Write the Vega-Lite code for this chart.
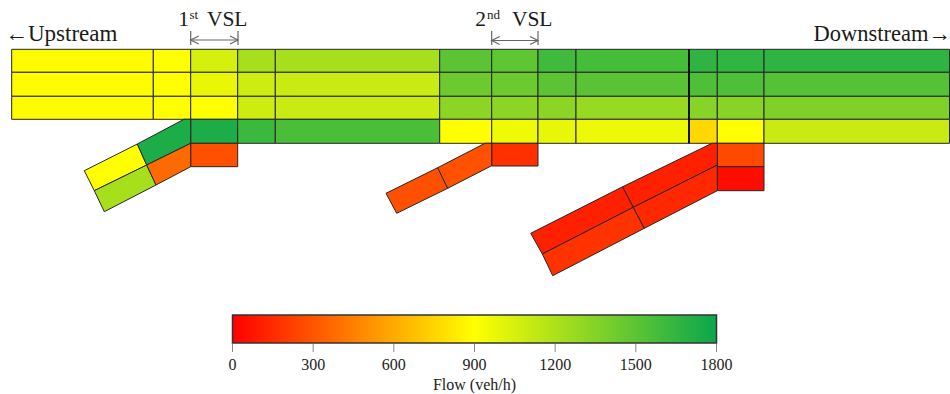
{
  "$schema": "https://vega.github.io/schema/vega-lite/v6.json",
  "width": 950,
  "height": 394,
  "padding": 0,
  "autosize": {"type": "none"},
  "background": "white",
  "config": {"view": {"stroke": null}},
  "datasets": {
    "road": [
      {"x": 11.7, "x2": 153.3, "y": 49.3, "y2": 72.3, "flow": 890},
      {"x": 11.7, "x2": 153.3, "y": 72.3, "y2": 96.3, "flow": 890},
      {"x": 11.7, "x2": 153.3, "y": 96.3, "y2": 119.3, "flow": 890},
      {"x": 153.3, "x2": 190.7, "y": 49.3, "y2": 72.3, "flow": 900},
      {"x": 153.3, "x2": 190.7, "y": 72.3, "y2": 96.3, "flow": 900},
      {"x": 153.3, "x2": 190.7, "y": 96.3, "y2": 119.3, "flow": 900},
      {"x": 190.7, "x2": 237.7, "y": 49.3, "y2": 72.3, "flow": 1055},
      {"x": 190.7, "x2": 237.7, "y": 72.3, "y2": 96.3, "flow": 980},
      {"x": 190.7, "x2": 237.7, "y": 96.3, "y2": 119.3, "flow": 900},
      {"x": 190.7, "x2": 237.7, "y": 119.3, "y2": 143.3, "flow": 1730},
      {"x": 237.7, "x2": 275.3, "y": 49.3, "y2": 72.3, "flow": 1220},
      {"x": 237.7, "x2": 275.3, "y": 72.3, "y2": 96.3, "flow": 1085},
      {"x": 237.7, "x2": 275.3, "y": 96.3, "y2": 119.3, "flow": 1085},
      {"x": 237.7, "x2": 275.3, "y": 119.3, "y2": 143.3, "flow": 1620},
      {"x": 275.3, "x2": 439.7, "y": 49.3, "y2": 72.3, "flow": 1220},
      {"x": 275.3, "x2": 439.7, "y": 72.3, "y2": 96.3, "flow": 1100},
      {"x": 275.3, "x2": 439.7, "y": 96.3, "y2": 119.3, "flow": 1100},
      {"x": 275.3, "x2": 439.7, "y": 119.3, "y2": 143.3, "flow": 1560},
      {"x": 439.7, "x2": 491.7, "y": 49.3, "y2": 72.3, "flow": 1500},
      {"x": 439.7, "x2": 491.7, "y": 72.3, "y2": 96.3, "flow": 1440},
      {"x": 439.7, "x2": 491.7, "y": 96.3, "y2": 119.3, "flow": 1320},
      {"x": 439.7, "x2": 491.7, "y": 119.3, "y2": 143.3, "flow": 900},
      {"x": 491.7, "x2": 538, "y": 49.3, "y2": 72.3, "flow": 1490},
      {"x": 491.7, "x2": 538, "y": 72.3, "y2": 96.3, "flow": 1440},
      {"x": 491.7, "x2": 538, "y": 96.3, "y2": 119.3, "flow": 1320},
      {"x": 491.7, "x2": 538, "y": 119.3, "y2": 143.3, "flow": 955},
      {"x": 538, "x2": 576, "y": 49.3, "y2": 72.3, "flow": 1600},
      {"x": 538, "x2": 576, "y": 72.3, "y2": 96.3, "flow": 1500},
      {"x": 538, "x2": 576, "y": 96.3, "y2": 119.3, "flow": 1320},
      {"x": 538, "x2": 576, "y": 119.3, "y2": 143.3, "flow": 985},
      {"x": 576, "x2": 689, "y": 49.3, "y2": 72.3, "flow": 1580},
      {"x": 576, "x2": 689, "y": 72.3, "y2": 96.3, "flow": 1510},
      {"x": 576, "x2": 689, "y": 96.3, "y2": 119.3, "flow": 1280},
      {"x": 576, "x2": 689, "y": 119.3, "y2": 143.3, "flow": 965},
      {"x": 689, "x2": 717.3, "y": 49.3, "y2": 72.3, "flow": 1665},
      {"x": 689, "x2": 717.3, "y": 72.3, "y2": 96.3, "flow": 1550},
      {"x": 689, "x2": 717.3, "y": 96.3, "y2": 119.3, "flow": 1340},
      {"x": 689, "x2": 717.3, "y": 119.3, "y2": 143.3, "flow": 762},
      {"x": 717.3, "x2": 764, "y": 49.3, "y2": 72.3, "flow": 1660},
      {"x": 717.3, "x2": 764, "y": 72.3, "y2": 96.3, "flow": 1550},
      {"x": 717.3, "x2": 764, "y": 96.3, "y2": 119.3, "flow": 1340},
      {"x": 717.3, "x2": 764, "y": 119.3, "y2": 143.3, "flow": 900},
      {"x": 764, "x2": 949.5, "y": 49.3, "y2": 72.3, "flow": 1665},
      {"x": 764, "x2": 949.5, "y": 72.3, "y2": 96.3, "flow": 1530},
      {"x": 764, "x2": 949.5, "y": 96.3, "y2": 119.3, "flow": 1370},
      {"x": 764, "x2": 949.5, "y": 119.3, "y2": 143.3, "flow": 1100},
      {"x": 190.7, "x2": 237.7, "y": 143.3, "y2": 166.7, "flow": 282},
      {"x": 491.7, "x2": 538, "y": 143.3, "y2": 166, "flow": 170},
      {"x": 717.3, "x2": 764, "y": 143.3, "y2": 166.7, "flow": 254},
      {"x": 717.3, "x2": 764, "y": 166.7, "y2": 190.7, "flow": 42}
    ],
    "ramps": [
      {"cell": "r1-far-upper", "flow": 900, "k": [0, 1, 2, 3, 4], "px": [84.3, 137.3, 146.7, 94.3, 84.3], "py": [170.7, 144, 165, 190.7, 170.7]},
      {"cell": "r1-far-lower", "flow": 1220, "k": [0, 1, 2, 3, 4], "px": [94.3, 146.7, 156, 104.3, 94.3], "py": [190.7, 165, 185, 211.7, 190.7]},
      {"cell": "r1-near-upper", "flow": 1730, "k": [0, 1, 2, 3, 4, 5], "px": [137.3, 184, 190.7, 190.7, 146.7, 137.3], "py": [144, 119.3, 119.3, 143.3, 165, 144]},
      {"cell": "r1-near-lower", "flow": 375, "k": [0, 1, 2, 3, 4], "px": [146.7, 190.7, 190.7, 156, 146.7], "py": [165, 143.3, 166.7, 185, 165]},
      {"cell": "r2-far", "flow": 280, "k": [0, 1, 2, 3, 4], "px": [386, 437.7, 447.7, 396.7, 386], "py": [193.3, 167.7, 188.3, 213.3, 193.3]},
      {"cell": "r2-near", "flow": 285, "k": [0, 1, 2, 3, 4, 5], "px": [437.7, 485, 491.7, 491.7, 447.7, 437.7], "py": [167.7, 143.3, 143.3, 165.7, 188.3, 167.7]},
      {"cell": "r3-far-upper", "flow": 113, "k": [0, 1, 2, 3, 4], "px": [530.7, 622.7, 633.3, 542.3, 530.7], "py": [233.3, 186.7, 207.3, 254, 233.3]},
      {"cell": "r3-near-upper", "flow": 113, "k": [0, 1, 2, 3, 4, 5], "px": [622.7, 712, 717.3, 717.3, 633.3, 622.7], "py": [186.7, 143.3, 143.3, 165, 207.3, 186.7]},
      {"cell": "r3-far-lower", "flow": 180, "k": [0, 1, 2, 3, 4], "px": [542.3, 633.3, 644.3, 552.7, 542.3], "py": [254, 207.3, 228.3, 275.7, 254]},
      {"cell": "r3-near-lower", "flow": 141, "k": [0, 1, 2, 3, 4], "px": [633.3, 717.3, 717.3, 644.3, 633.3], "py": [207.3, 165, 190.7, 228.3, 207.3]}
    ],
    "divider": [{"x": 689, "y": 49.3, "y2": 143.3}],
    "ends": [
      {"t": "←Upstream", "x": 5, "y": 41, "side": "left"},
      {"t": "Downstream→", "x": 951, "y": 41, "side": "right"}
    ],
    "vsl": [
      {"t": "1", "x": 189, "y": 25.5},
      {"t": "VSL", "x": 247.5, "y": 25.5},
      {"t": "2", "x": 486, "y": 25.5},
      {"t": "VSL", "x": 552.5, "y": 25.5}
    ],
    "sups": [
      {"t": "st", "x": 189.5, "y": 18.5},
      {"t": "nd", "x": 487, "y": 18.5}
    ],
    "arrows": [
      {"x": 190.7, "x2": 238, "y": 40},
      {"x": 491.7, "x2": 538, "y": 40.5}
    ],
    "ticks": [{"v": 0}, {"v": 300}, {"v": 600}, {"v": 900}, {"v": 1200}, {"v": 1500}, {"v": 1800}]
  },
  "layer": [
    {
      "layer": [
        {
          "data": {"name": "road"},
          "mark": {"type": "rect", "stroke": "#262626", "strokeWidth": 1},
          "encoding": {
            "x": {"field": "x", "type": "quantitative", "scale": {"domain": [0, 950], "nice": false, "zero": false}, "axis": null},
            "x2": {"field": "x2"},
            "y": {"field": "y", "type": "quantitative", "scale": {"domain": [0, 394], "nice": false, "zero": false, "reverse": true}, "axis": null},
            "y2": {"field": "y2"},
            "fill": {
              "field": "flow",
              "type": "quantitative",
              "scale": {"domain": [0, 900, 1800], "range": ["#ff0000", "#ffff00", "#0aa64e"], "interpolate": "rgb"},
              "legend": {
                "title": "Flow (veh/h)",
                "orient": "none",
                "legendX": 232.5,
                "legendY": 315,
                "direction": "horizontal",
                "padding": 0,
                "gradientLength": 484,
                "gradientThickness": 28,
                "gradientStrokeColor": "#333333",
                "gradientStrokeWidth": 1.5,
                "values": [0, 300, 600, 900, 1200, 1500, 1800],
                "format": "d",
                "labelAlign": "center",
                "labelOverlap": false,
                "labelOffset": 14,
                "labelFont": "Liberation Serif",
                "labelFontSize": 16,
                "labelColor": "#222222",
                "titleOrient": "bottom",
                "titleAnchor": "middle",
                "titlePadding": 4,
                "titleFont": "Liberation Serif",
                "titleFontSize": 16,
                "titleFontWeight": "normal",
                "titleColor": "#222222",
                "encode": {"labels": {"update": {"align": {"value": "center"}}}}
              }
            }
          }
        },
        {
          "data": {"name": "ramps"},
          "transform": [{"flatten": ["px", "py", "k"]}],
          "mark": {"type": "line", "stroke": "#262626", "strokeWidth": 1, "strokeJoin": "miter", "interpolate": "linear"},
          "encoding": {
            "x": {"field": "px", "type": "quantitative", "scale": {"domain": [0, 950], "nice": false, "zero": false}, "axis": null},
            "y": {"field": "py", "type": "quantitative", "scale": {"domain": [0, 394], "nice": false, "zero": false, "reverse": true}, "axis": null},
            "order": {"field": "k", "type": "quantitative"},
            "detail": {"field": "cell", "type": "nominal"},
            "fill": {"field": "flow", "type": "quantitative"}
          }
        },
        {
          "data": {"name": "divider"},
          "mark": {"type": "rule", "stroke": "#111111", "strokeWidth": 2},
          "encoding": {
            "x": {"field": "x", "type": "quantitative", "scale": {"domain": [0, 950], "nice": false, "zero": false}, "axis": null},
            "y": {"field": "y", "type": "quantitative", "scale": {"domain": [0, 394], "nice": false, "zero": false, "reverse": true}, "axis": null},
            "y2": {"field": "y2"}
          }
        },
        {
          "data": {"name": "arrows"},
          "mark": {"type": "rule", "stroke": "#666666", "strokeWidth": 1.2},
          "encoding": {
            "x": {"field": "x", "type": "quantitative", "scale": {"domain": [0, 950], "nice": false, "zero": false}, "axis": null},
            "x2": {"field": "x2"},
            "y": {"field": "y", "type": "quantitative", "scale": {"domain": [0, 394], "nice": false, "zero": false, "reverse": true}, "axis": null}
          }
        },
        {
          "data": {"name": "arrows"},
          "mark": {"type": "rule", "stroke": "#666666", "strokeWidth": 1.2},
          "encoding": {
            "x": {"field": "x", "type": "quantitative", "scale": {"domain": [0, 950], "nice": false, "zero": false}, "axis": null},
            "y": {"datum": 31, "type": "quantitative", "scale": {"domain": [0, 394], "nice": false, "zero": false, "reverse": true}, "axis": null},
            "y2": {"datum": 45}
          }
        },
        {
          "data": {"name": "arrows"},
          "mark": {"type": "rule", "stroke": "#666666", "strokeWidth": 1.2},
          "encoding": {
            "x": {"field": "x2", "type": "quantitative", "scale": {"domain": [0, 950], "nice": false, "zero": false}, "axis": null},
            "y": {"datum": 31, "type": "quantitative", "scale": {"domain": [0, 394], "nice": false, "zero": false, "reverse": true}, "axis": null},
            "y2": {"datum": 45}
          }
        },
        {
          "data": {"name": "arrows"},
          "mark": {"type": "point", "shape": "M2,-1L0,0L2,1", "size": 64, "filled": false, "stroke": "#666666", "strokeWidth": 1.2, "opacity": 1},
          "encoding": {
            "x": {"field": "x", "type": "quantitative", "scale": {"domain": [0, 950], "nice": false, "zero": false}, "axis": null},
            "y": {"field": "y", "type": "quantitative", "scale": {"domain": [0, 394], "nice": false, "zero": false, "reverse": true}, "axis": null}
          }
        },
        {
          "data": {"name": "arrows"},
          "mark": {"type": "point", "shape": "M-2,-1L0,0L-2,1", "size": 64, "filled": false, "stroke": "#666666", "strokeWidth": 1.2, "opacity": 1},
          "encoding": {
            "x": {"field": "x2", "type": "quantitative", "scale": {"domain": [0, 950], "nice": false, "zero": false}, "axis": null},
            "y": {"field": "y", "type": "quantitative", "scale": {"domain": [0, 394], "nice": false, "zero": false, "reverse": true}, "axis": null}
          }
        },
        {
          "data": {"name": "ends"},
          "transform": [{"filter": "datum.side === 'left'"}],
          "mark": {"type": "text", "align": "left", "baseline": "alphabetic", "font": "Liberation Serif", "fontSize": 23, "color": "#1a1a1a"},
          "encoding": {
            "x": {"field": "x", "type": "quantitative", "scale": {"domain": [0, 950], "nice": false, "zero": false}, "axis": null},
            "y": {"field": "y", "type": "quantitative", "scale": {"domain": [0, 394], "nice": false, "zero": false, "reverse": true}, "axis": null},
            "text": {"field": "t"}
          }
        },
        {
          "data": {"name": "ends"},
          "transform": [{"filter": "datum.side === 'right'"}],
          "mark": {"type": "text", "align": "right", "baseline": "alphabetic", "font": "Liberation Serif", "fontSize": 22.5, "color": "#1a1a1a"},
          "encoding": {
            "x": {"field": "x", "type": "quantitative", "scale": {"domain": [0, 950], "nice": false, "zero": false}, "axis": null},
            "y": {"field": "y", "type": "quantitative", "scale": {"domain": [0, 394], "nice": false, "zero": false, "reverse": true}, "axis": null},
            "text": {"field": "t"}
          }
        },
        {
          "data": {"name": "vsl"},
          "mark": {"type": "text", "align": "right", "baseline": "alphabetic", "font": "Liberation Serif", "fontSize": 21.5, "color": "#1a1a1a"},
          "encoding": {
            "x": {"field": "x", "type": "quantitative", "scale": {"domain": [0, 950], "nice": false, "zero": false}, "axis": null},
            "y": {"field": "y", "type": "quantitative", "scale": {"domain": [0, 394], "nice": false, "zero": false, "reverse": true}, "axis": null},
            "text": {"field": "t"}
          }
        },
        {
          "data": {"name": "sups"},
          "mark": {"type": "text", "align": "left", "baseline": "alphabetic", "font": "Liberation Serif", "fontSize": 13, "color": "#1a1a1a"},
          "encoding": {
            "x": {"field": "x", "type": "quantitative", "scale": {"domain": [0, 950], "nice": false, "zero": false}, "axis": null},
            "y": {"field": "y", "type": "quantitative", "scale": {"domain": [0, 394], "nice": false, "zero": false, "reverse": true}, "axis": null},
            "text": {"field": "t"}
          }
        }
      ]
    },
    {
      "data": {"name": "ticks"},
      "mark": {"type": "rule", "stroke": "#888888", "strokeWidth": 1},
      "encoding": {
        "x": {"field": "v", "type": "quantitative", "scale": {"domain": [0, 1800], "range": [232.5, 716.5], "nice": false, "zero": false}, "axis": null},
        "y": {"datum": 344, "type": "quantitative", "scale": {"domain": [0, 394], "nice": false, "zero": false, "reverse": true}, "axis": null},
        "y2": {"datum": 352}
      }
    }
  ],
  "resolve": {"scale": {"x": "independent"}}
}
